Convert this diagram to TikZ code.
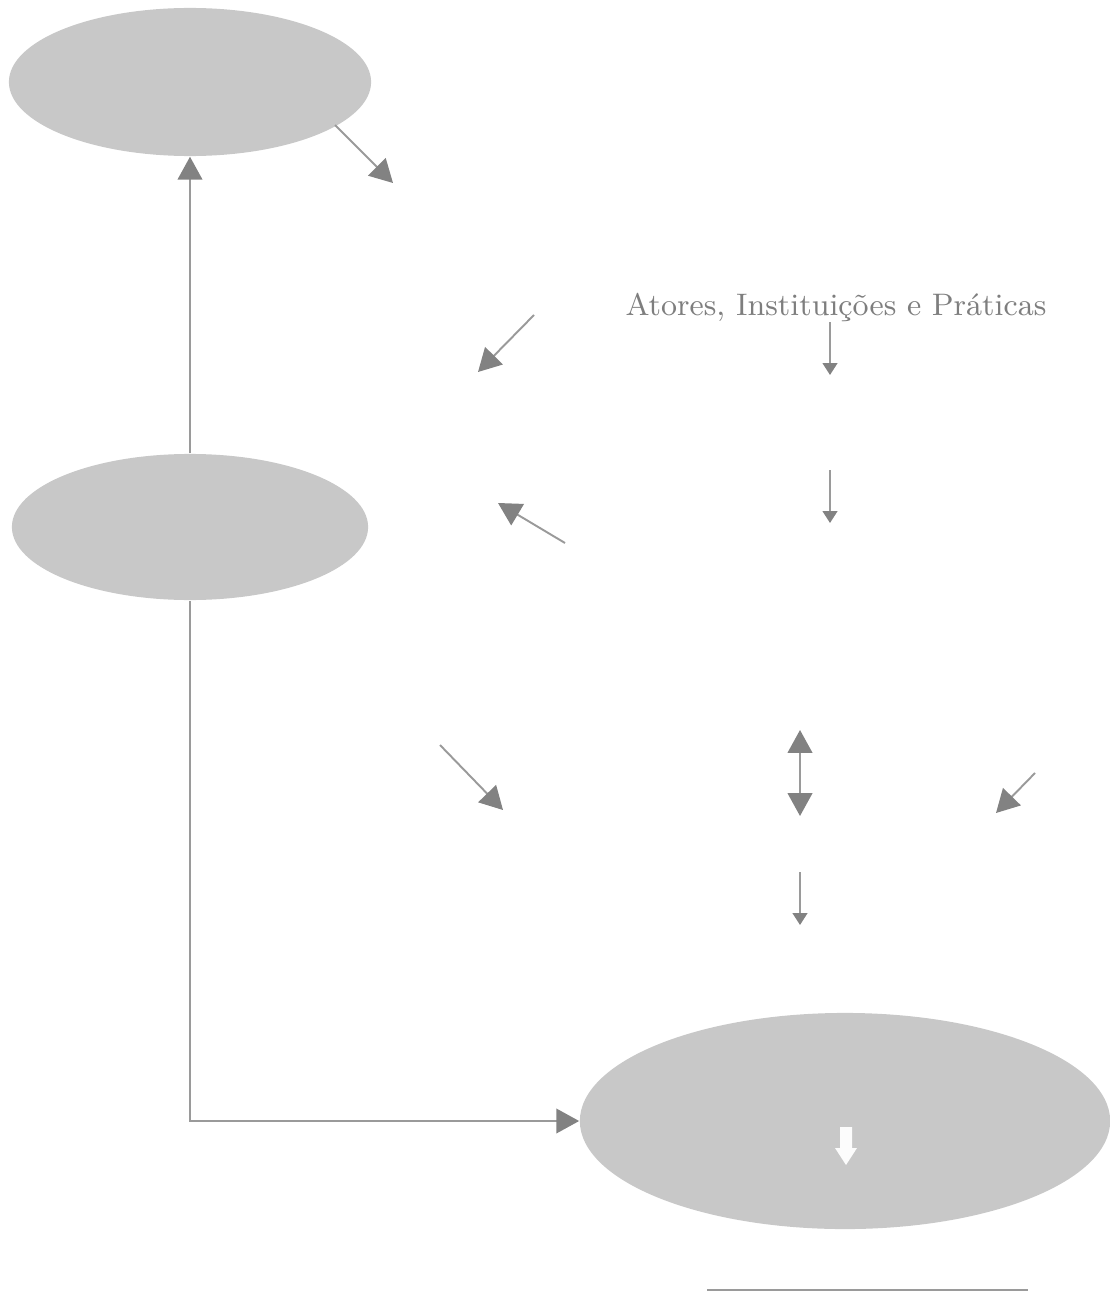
\documentclass[tikz,border=0pt]{standalone}
\usetikzlibrary{shapes.geometric,arrows.meta}
\definecolor{bubble}{HTML}{C8C8C8}
\definecolor{arrgray}{HTML}{9A9A9A}
\definecolor{headgray}{HTML}{828282}
\definecolor{txtgray}{HTML}{7E7E7E}
\begin{document}
\begin{tikzpicture}[x=0.01cm,y=-0.01cm,
    blob/.style={ellipse,fill=bubble,draw=none,inner sep=0pt},
    bigarr/.style={draw=arrgray,line width=0.55pt,-{Triangle[length=6.5pt,width=7pt,color=headgray]}},
    smallarr/.style={draw=arrgray,line width=0.55pt,-{Triangle[length=3.4pt,width=4.2pt,color=headgray]}}]
\useasboundingbox (0,0) rectangle (1110,1300);

\node[blob,minimum width=3.62cm,minimum height=1.48cm] (topblob) at (190,82) {};
\node[blob,minimum width=3.56cm,minimum height=1.46cm] (midblob) at (190,527) {};
\node[blob,minimum width=5.3cm,minimum height=2.16cm] (lowblob) at (845,1121) {};

\node[text=txtgray,font=\fontsize{8.85}{11}\selectfont,inner sep=0pt] (actors) at (836,307) {Atores, Instituições e Práticas};

\draw[bigarr] (midblob.north) -- (midblob.north |- topblob.south);
\draw[bigarr] (midblob.south) |- (lowblob.west);

% loose arrows
\coordinate (a1) at (335,125);  \coordinate (b1) at (393,183);
\coordinate (a2) at (534,315);  \coordinate (b2) at (478,372);
\coordinate (a5) at (565,543);  \coordinate (b5) at (498,503);
\coordinate (a6) at (440,745);  \coordinate (b6) at (503,810);
\coordinate (a8) at (1035,773); \coordinate (b8) at (996,813);
\foreach \i in {1,2,5,6,8}
{
    \draw[bigarr] (a\i) -- (b\i);
}

\coordinate (a3) at (830,322);  \coordinate (b3) at (830,375);
\coordinate (a4) at (830,470);  \coordinate (b4) at (830,523);
\coordinate (a9) at (800,872);  \coordinate (b9) at (800,925);
\foreach \i in {3,4,9}
{
    \draw[smallarr] (a\i) -- (b\i);
}

\coordinate (a7) at (800,730);  \coordinate (b7) at (800,816);
\draw[bigarr,{Triangle[length=6.5pt,width=7pt,color=headgray]}-{Triangle[length=6.5pt,width=7pt,color=headgray]}] (a7) -- (b7);

% white arrow in the lower blob
\fill[white!94!bubble] (840,1127) -- (852,1127) -- (852,1148) -- (857,1148) -- (846,1165)
    -- (835,1148) -- (840,1148) -- cycle;

\draw[arrgray,line width=0.8pt] (707,1290) -- (1028,1290);

\end{tikzpicture}
\end{document}
